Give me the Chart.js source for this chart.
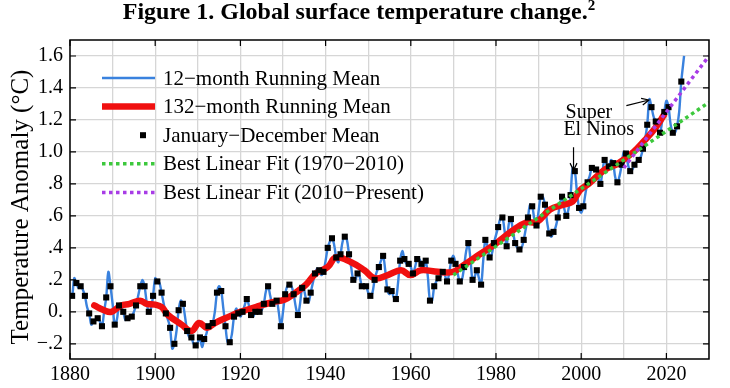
<!DOCTYPE html>
<html>
<head>
<meta charset="utf-8">
<script src="https://cdn.jsdelivr.net/npm/chart.js@4.4.1/dist/chart.umd.min.js"></script>
<style>
  html, body { margin: 0; padding: 0; background: #fff; }
  #wrap { position: relative; width: 730px; height: 388px; overflow: hidden; }
  canvas { position: absolute; left: 0; top: 0; }
  #title { position: absolute; left: 0; top: -3px; width: 718px; text-align: center;
           font: bold 24px "Liberation Serif", "Times New Roman", serif; line-height: 28px; color: #000; }
  #title sup { font-size: 15px; vertical-align: 9px; line-height: 0; }
</style>
</head>
<body>
<div id="wrap">
  <canvas id="c" width="730" height="388"></canvas>
  <div id="title">Figure 1. Global surface temperature change.<sup>2</sup></div>
</div>
<script>
// ---------------- DATA ----------------
const firstYear = 1880;
// January–December mean anomaly (°C), 1880 … 2023
const annualMean = [
  0.10, 0.18, 0.16, 0.10,-0.01,-0.06,-0.04,-0.09, 0.09, 0.16,
 -0.08, 0.04, 0.00,-0.04,-0.03, 0.04, 0.16, 0.16, 0.00, 0.10,
  0.19, 0.12,-0.01,-0.10,-0.20, 0.01, 0.05,-0.12,-0.16,-0.21,
 -0.16,-0.17,-0.09,-0.07, 0.12, 0.13,-0.09,-0.19,-0.03,-0.01,
  0.00, 0.08,-0.02, 0.00, 0.00, 0.05, 0.16, 0.05, 0.07,-0.09,
  0.11, 0.17, 0.11,-0.02, 0.15, 0.07, 0.12, 0.24, 0.26, 0.25,
  0.40, 0.46, 0.34, 0.36, 0.47, 0.36, 0.20, 0.24, 0.16, 0.16,
  0.10, 0.20, 0.28, 0.35, 0.14, 0.13, 0.08, 0.32, 0.33, 0.30,
  0.24, 0.33, 0.30, 0.32, 0.07, 0.16, 0.21, 0.25, 0.19, 0.32,
  0.30, 0.19, 0.28, 0.43, 0.20, 0.26, 0.17, 0.45, 0.34, 0.43,
  0.53, 0.59, 0.41, 0.58, 0.43, 0.39, 0.45, 0.59, 0.66, 0.54,
  0.72, 0.67, 0.49, 0.50, 0.59, 0.72, 0.60, 0.73, 0.88, 0.65,
  0.66, 0.81, 0.90, 0.89, 0.80, 0.95, 0.91, 0.93, 0.81, 0.92,
  0.99, 0.88, 0.92, 0.95, 1.02, 1.17, 1.28, 1.19, 1.12, 1.25,
  1.28, 1.12, 1.16, 1.44
];
// 12-month running mean read at the turn of each year (Jan), 1880 … 2023
const runningMean12Jan = [
  0.09, 0.21, 0.15, 0.14, 0.03,-0.08,-0.05,-0.06, 0.00, 0.25,
  0.05,-0.05, 0.03,-0.05,-0.04, 0.00, 0.10, 0.20, 0.06, 0.02,
  0.21, 0.18, 0.05,-0.05,-0.23,-0.12, 0.07,-0.03,-0.16,-0.20,
 -0.19,-0.22,-0.14,-0.10, 0.00, 0.16, 0.02,-0.19,-0.14, 0.02,
 -0.03, 0.04, 0.04,-0.03, 0.01, 0.01, 0.13, 0.10, 0.06, 0.00,
  0.00, 0.16, 0.16, 0.03, 0.05, 0.13, 0.06, 0.18, 0.27, 0.23,
  0.32, 0.44, 0.42, 0.31, 0.44, 0.45, 0.28, 0.20, 0.22, 0.15,
  0.12, 0.12, 0.25, 0.32, 0.26, 0.11, 0.09, 0.18, 0.38, 0.30,
  0.28, 0.28, 0.33, 0.28, 0.22, 0.07, 0.19, 0.22, 0.23, 0.24,
  0.35, 0.24, 0.20, 0.38, 0.33, 0.22, 0.21, 0.32, 0.41, 0.36,
  0.48, 0.58, 0.51, 0.55, 0.50, 0.40, 0.40, 0.52, 0.67, 0.58,
  0.63, 0.72, 0.56, 0.47, 0.53, 0.67, 0.65, 0.64, 0.90, 0.75,
  0.62, 0.74, 0.85, 0.90, 0.84, 0.88, 0.92, 0.95, 0.84, 0.85,
  1.00, 0.92, 0.89, 0.94, 0.97, 1.08, 1.33, 1.22, 1.13, 1.19,
  1.32, 1.17, 1.12, 1.25
];
const runningMean12LastYear = 2024.15;
const runningMean12LastValue = 1.60;

// 132-month running mean
const red132Years = [1885.7,1888,1889.7,1892,1894,1896.4,1898,1900,1901.5,1903,1906.2,1908.5,1910.3,1912.2,1914,1917.3,1920,1923.6,1927.5,1930.3,1933,1935.4,1937.7,1940.5,1942.4,1946,1949.1,1951.5,1954.6,1957.7,1959.9,1962.4,1966.4,1969.9,1972.3,1976.2,1980.1,1984,1987.2,1989.5,1992.7,1995.8,1998,1999.7,2001.7,2005.6,2008.8,2012.3,2015,2017.4,2019.4];
const red132Values = [0.04,0.01,0.00,0.04,0.05,0.07,0.05,0.045,0.03,-0.02,-0.08,-0.12,-0.07,-0.10,-0.07,-0.03,0.00,0.03,0.06,0.075,0.12,0.17,0.24,0.28,0.34,0.31,0.26,0.21,0.23,0.26,0.23,0.26,0.25,0.25,0.29,0.36,0.43,0.51,0.56,0.56,0.64,0.67,0.69,0.76,0.80,0.89,0.93,1.00,1.075,1.15,1.23];

// Best linear fits (end points)
const fit1970Years = [1970, 2030];
const fit1970Values = [0.23, 1.31];
const fit2010Years = [2010, 2030];
const fit2010Values = [0.90, 1.60];

// Axes
const xGridYears = [1880,1890,1900,1910,1920,1930,1940,1950,1960,1970,1980,1990,2000,2010,2020,2030];
const xTickYears = [1880,1900,1920,1940,1960,1980,2000,2020];
const yTickValues = [-0.2,0,0.2,0.4,0.6,0.8,1.0,1.2,1.4,1.6];
const yTickLabels = ['\u2212.2','0.','.2','.4','.6','.8','1.0','1.2','1.4','1.6'];

// Labels
const legendLabels = ['12\u2212month Running Mean','132\u2212month Running Mean','January\u2212December Mean','Best Linear Fit (1970\u22122010)','Best Linear Fit (2010\u2212Present)'];
const yTitle = 'Temperature Anomaly (\u00B0C)';
const noteTexts = [{text:'Super', x:2001.8, y:1.245}, {text:'El Ninos', x:2004.1, y:1.14}];
const noteArrows = [{x1:1998.2, y1:1.03, x2:1998.2, y2:0.885}, {x1:2010.6, y1:1.29, x2:2015.9, y2:1.325}];

// ---------------- STYLE ----------------
const SERIF = '"Liberation Serif", "Times New Roman", serif';
const C_BLUE = '#3a82de', C_RED = '#f01010', C_GREEN = '#3cc83c', C_PURPLE = '#a83ce6';

// ---------------- BUILD ----------------
const bluePts = [];
runningMean12Jan.forEach((v, i) => {
  bluePts.push({x: firstYear + i, y: v});
  bluePts.push({x: firstYear + i + 0.5, y: annualMean[i]});
});
bluePts.push({x: runningMean12LastYear, y: runningMean12LastValue});
const squarePts = annualMean.map((v, i) => ({x: firstYear + i + 0.5, y: v}));
const redPts = red132Years.map((x, i) => ({x, y: red132Values[i]}));
const fit1Pts = fit1970Years.map((x, i) => ({x, y: fit1970Values[i]}));
const fit2Pts = fit2010Years.map((x, i) => ({x, y: fit2010Values[i]}));

const decor = {
  id: 'decor',
  afterDraw(chart) {
    const {ctx, chartArea: a, scales: {x, y}} = chart;
    ctx.save();
    // frame
    ctx.strokeStyle = '#000'; ctx.lineWidth = 1.5;
    ctx.strokeRect(a.left, a.top, a.right - a.left, a.bottom - a.top);
    // inward ticks
    ctx.lineWidth = 1.2;
    ctx.beginPath();
    xTickYears.forEach(v => {
      const px = x.getPixelForValue(v);
      ctx.moveTo(px, a.bottom); ctx.lineTo(px, a.bottom - 6);
      ctx.moveTo(px, a.top); ctx.lineTo(px, a.top + 6);
    });
    yTickValues.forEach(v => {
      const py = y.getPixelForValue(v);
      ctx.moveTo(a.left, py); ctx.lineTo(a.left + 6, py);
      ctx.moveTo(a.right, py); ctx.lineTo(a.right - 6, py);
    });
    ctx.stroke();

    // y title
    ctx.save();
    ctx.translate(21, 207);
    ctx.rotate(-Math.PI / 2);
    ctx.font = '25px ' + SERIF; ctx.fillStyle = '#000';
    ctx.textAlign = 'center'; ctx.textBaseline = 'middle';
    ctx.fillText(yTitle, 0, 0);
    ctx.restore();

    // legend
    const lx0 = a.left + 32, lx1 = a.left + 85, tx = a.left + 93;
    const rowY = i => a.top + 38 + i * 28.6;
    ctx.font = '21px ' + SERIF; ctx.fillStyle = '#000';
    ctx.textAlign = 'left'; ctx.textBaseline = 'middle';
    legendLabels.forEach((lab, i) => {
      const yy = rowY(i);
      ctx.save();
      if (i === 0) { ctx.strokeStyle = C_BLUE; ctx.lineWidth = 2.4; }
      if (i === 1) { ctx.strokeStyle = C_RED; ctx.lineWidth = 6.5; }
      if (i === 3) { ctx.strokeStyle = C_GREEN; ctx.lineWidth = 3.5; ctx.setLineDash([3.5, 3.5]); }
      if (i === 4) { ctx.strokeStyle = C_PURPLE; ctx.lineWidth = 3.5; ctx.setLineDash([3.5, 3.5]); }
      if (i === 2) {
        ctx.fillStyle = '#000'; ctx.fillRect(lx1 - 15, yy - 3, 6, 6);
      } else {
        ctx.beginPath(); ctx.moveTo(lx0, yy); ctx.lineTo(lx1, yy); ctx.stroke();
      }
      ctx.restore();
      ctx.fillText(lab, tx, yy + 1);
    });

    // annotations
    ctx.font = '20px ' + SERIF; ctx.textAlign = 'center'; ctx.textBaseline = 'middle';
    noteTexts.forEach(n => ctx.fillText(n.text, x.getPixelForValue(n.x), y.getPixelForValue(n.y)));
    ctx.strokeStyle = '#000'; ctx.lineWidth = 1.2;
    noteArrows.forEach(ar => {
      const x1 = x.getPixelForValue(ar.x1), y1 = y.getPixelForValue(ar.y1);
      const x2 = x.getPixelForValue(ar.x2), y2 = y.getPixelForValue(ar.y2);
      const ang = Math.atan2(y2 - y1, x2 - x1), h = 8;
      ctx.beginPath();
      ctx.moveTo(x1, y1); ctx.lineTo(x2, y2);
      ctx.moveTo(x2 - h * Math.cos(ang - 0.45), y2 - h * Math.sin(ang - 0.45));
      ctx.lineTo(x2, y2);
      ctx.lineTo(x2 - h * Math.cos(ang + 0.45), y2 - h * Math.sin(ang + 0.45));
      ctx.stroke();
    });
    ctx.restore();
  }
};

new Chart(document.getElementById('c'), {
  type: 'line',
  data: {
    datasets: [
      { label: legendLabels[4], data: fit2Pts, borderColor: C_PURPLE, borderWidth: 3.5, borderDash: [3.5, 3.5], pointRadius: 0, order: 1 },
      { label: legendLabels[3], data: fit1Pts, borderColor: C_GREEN, borderWidth: 3.5, borderDash: [3.5, 3.5], pointRadius: 0, order: 2 },
      { label: legendLabels[2], data: squarePts, showLine: false, pointStyle: 'rect', pointRadius: 4.3, backgroundColor: '#000', borderWidth: 0, order: 3 },
      { label: legendLabels[1], data: redPts, borderColor: C_RED, borderWidth: 6.5, tension: 0.4, pointRadius: 0, borderCapStyle: 'round', borderJoinStyle: 'round', order: 4 },
      { label: legendLabels[0], data: bluePts, borderColor: C_BLUE, borderWidth: 2.4, tension: 0.35, pointRadius: 0, order: 5 }
    ]
  },
  options: {
    responsive: false, animation: false, devicePixelRatio: 1,
    layout: { padding: { top: 40, right: 21, left: 0, bottom: 0 } },
    plugins: { legend: { display: false }, tooltip: { enabled: false }, title: { display: false } },
    scales: {
      x: {
        type: 'linear', min: 1880, max: 2030,
        afterBuildTicks: ax => { ax.ticks = xGridYears.map(v => ({ value: v })); },
        afterFit: ax => { ax.height = 29; },
        border: { display: false },
        grid: { color: '#d6d6d6', lineWidth: 1.3, drawTicks: false },
        ticks: { autoSkip: false, maxRotation: 0, padding: 4, color: '#000',
                 font: { family: SERIF, size: 20 },
                 callback: v => xTickYears.includes(v) ? String(v) : '' }
      },
      y: {
        min: -0.295, max: 1.70,
        afterBuildTicks: ax => { ax.ticks = yTickValues.map(v => ({ value: v })); },
        afterFit: ax => { ax.width = 70; },
        border: { display: false },
        grid: { color: '#d6d6d6', lineWidth: 1.3, drawTicks: false },
        ticks: { padding: 7, color: '#000', font: { family: SERIF, size: 20 },
                 callback: (v, i) => yTickLabels[i] }
      }
    }
  },
  plugins: [decor]
});
</script>
</body>
</html>
